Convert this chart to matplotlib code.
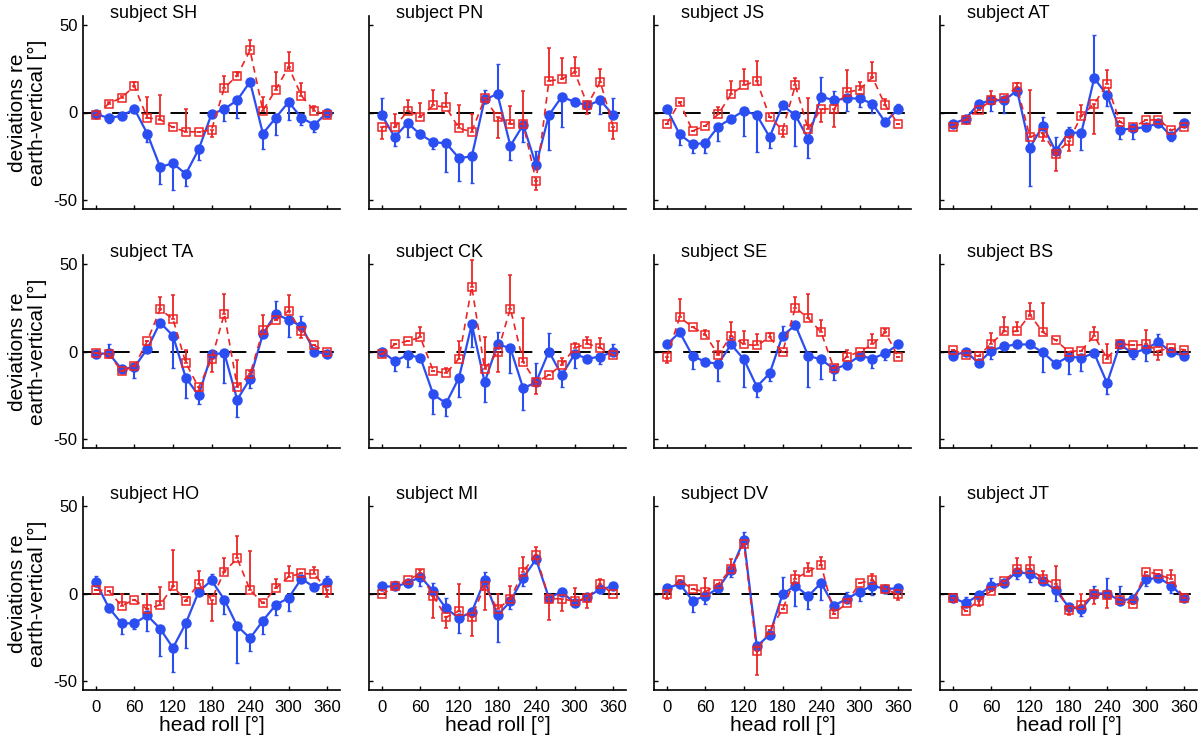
import numpy as np
import matplotlib
matplotlib.use("Agg")
import matplotlib.pyplot as plt

plt.rcParams["font.family"] = ["Liberation Sans", "DejaVu Sans"]
plt.rcParams["axes.unicode_minus"] = False

head_roll = list(range(0, 361, 20))
x_ticks = [0, 60, 120, 180, 240, 300, 360]
y_ticks = [-50, 0, 50]

# signed error lengths: positive = bar drawn upward, negative = downward
sh_blue = [-1, -3, -2, 2, -12, -31, -29, -35, -21, -1, 2, 7, 17.5, -12, -3, 6, -3, -7, 0]
sh_blue_err = [0, -3, 0, 0, -5, -10, -15, -7, -6, 0, -7, -10, 0, -9, -10, -10, -4, -4, 0]
sh_red = [-1.5, 5, 8.5, 15, -3, -4, -8.5, -11, -11, -10, 14, 21, 35.5, 1, 13, 26, 9.5, 1, -1.5]
sh_red_err = [0, 1, 1, 2.5, 12, 14, 0, 13, 0, -4, 7, 2, 6, 8, 10, 8.5, 7.5, 2.5, 0]

pn_blue = [-1.5, -14, -6, -12.5, -17, -17.5, -26, -25, 7.5, 10.5, -19, -7, -30, -1.5, 9, 6, 4, 7, -1.5]
pn_blue_err = [9.5, -5, -8, -2, -4, -16.5, -13, -15, 5.5, 17, -8, -10, 8, -20, -17, 2, 0, -8, 9.5]
pn_red = [-8, -8.5, 1, -2.5, 4, 3, -9, -11, 8, -2.5, -6.5, -6.5, -39, 18, 19, 23, 4.5, 17.5, -8]
pn_red_err = [-7, 7.5, 6, 8, 9, 8, 13, 10, 0, -12, 10, 18.5, -5, 19, 12, 8.5, -5.5, 7.5, -7]

js_blue = [2, -12.5, -18, -17.5, -8, -3.5, 1, -1.5, -14, 4, -1.5, -15, 9, 7, 8, 8, 5, -5.5, 2]
js_blue_err = [0, -6, -5, -5.5, -8, 0, -14.5, -21, -6, 2, -17.5, -11, 11, 5, -7, -5, -5, 0, 3]
js_red = [-6.5, 6, -10.5, -7.5, -1, 10.5, 15.5, 18, -2.5, -10, 15.5, -9.5, 2, 2, 11.5, 13, 20, 4, -6.5]
js_red_err = [0, 0, 0, 0, 4, 7.5, 9.5, 11.5, 0, -4, 4, 18, -7.5, -10, 12.5, 4.5, 9, 3.5, 0]

at_blue = [-6.5, -3.5, 5, 7, 7, 12.5, -20, -7.5, -22, -11.5, -11.5, 19.5, 10, -10, -9, -8.5, -6, -13.5, -6]
at_blue_err = [0, 0, 0, -6, -7, 0, -22, 5, 8, 3, -10, 24.5, -6.5, -5, -6, 0, 0, -3, 0]
at_red = [-8.5, -4, 1.5, 7, 8.5, 14.5, -14, -11.5, -23.5, -16.5, -2, 5, 16, -5.5, -8.5, -4.5, -4, -10, -8]
at_red_err = [0, 0, 0, 5, 0, 2.5, 27, -5, -10, -5.5, 6, -17, 8.5, 0, 0, 0, 0, 0, 0]

ta_blue = [-1.5, -1, -10, -9, 1.5, 16.5, 9, -15, -25, -1.5, -1, -27.5, -15.5, 10, 21.5, 18, 14.5, 0, -1.5]
ta_blue_err = [0, 5, 0, -6, 0, 0, -18.5, -11.5, -5, 0, -17, -10, -5.5, 0, 7, -9.5, 6, 0, 0]
ta_red = [-1, -1.5, -11, -8.5, 6, 24, 18.5, -6.5, -20.5, -4.5, 21.5, -20, -13, 12, 18, 23, 11.5, 3.5, -0.5]
ta_red_err = [0, 0, 0, 0, 0, 7, 13.5, 7.5, -2, -7, 11, 15, 2, 9, 0, 9, -4, 0, 0]

ck_blue = [0, -5.5, -2, -3.5, -24.5, -29.5, -15, 15.5, -17.5, 4, 2, -21, -17.5, 0, -13.5, -1.5, -4, -3, 0]
ck_blue_err = [0, -5.5, -7, 0, -11, -7, -11, -13, -11, 7, -14, -12.5, 11, 10.5, -7, -8, 0, -4, 4]
ck_red = [-1.5, 4, 6, 8, -11, -12.5, -4, 37, -10, -0.5, 24.5, -6, -17.5, -13.5, -7.5, 2, 4.5, 2, -2]
ck_red_err = [0, 0, 0, 6, 0, 3, 10, 15, 18, -11, 19, 25, -6.5, 0, 4, 3, 4, 5.5, 0]

se_blue = [4, 11, -2.5, -6, -7, 4, -4.5, -20, -12.5, 9, 15, -2.5, -4.5, -10, -7.5, -2.5, -4, -1, 4]
se_blue_err = [0, 0, -7.5, 0, -10, 3.5, -15.5, -6, -4.5, 5.5, 0, -17.5, -11, -6.5, 0, 0, -5.5, -4, 0]
se_red = [-3, 19.5, 14, 9.5, -2, 9, 4, 3.5, 8, -0.5, 25, 19, 11, -9.5, -3, 0, 4, 11, -3]
se_red_err = [-3.5, 10.5, 0, 3, 8, 8, 7.5, 6.5, 2.5, 0, 6, 13.5, 7, 0, 4, 0, 6, 2, 0]

bs_blue = [-2.5, 0, -6.5, 0.5, 3, 4, 4, -0.5, -7, -3, -3.5, -1, -18, 4, -1, 1.5, 5.5, -0.5, -2.5]
bs_blue_err = [0, 0, 0, -4.5, 0, 0, 0, -11, 0, -10, -7.5, 0, -6, 0, -3.5, -7, 4.5, 0, 0]
bs_red = [1, -2, -2.5, 4.5, 11.5, 11.5, 21, 11, 6.5, 0, 0.5, 9, -4, 4.5, 3.5, 4, 0.5, 2, 1]
bs_red_err = [0, 0, 0, 6, 8, 5.5, 6.5, 16.5, 0, 0, 0, 5, 8.5, 0, 0, 8, -5.5, 0, 0]

ho_blue = [6.5, -8, -17, -17, -12.5, -20, -31, -17, 1, 7.5, -3.5, -18.5, -25.5, -15.5, -6.5, -2.5, 8.5, 3.5, 6.5]
ho_blue_err = [3.5, 0, -6, -3.5, -9, -15.5, -14, -14, 0, 3.5, -8, -21, -7, -7.5, -6, -7.5, 0, 0, 3.5]
ho_red = [2, 1.5, -7, -3.5, -9, -6.5, 4, -4, 5.5, -3.5, 12.5, 20, 2, -5.5, 3, 9.5, 11.5, 11, 2]
ho_red_err = [0, 0, 6.5, 0, 8.5, 10, 21, 0, 7.5, -12, 8, 13, 22.5, 0, 5, 6, 0, 4, -4]

mi_blue = [4, 4, 6, 9.5, 1.5, -8.5, -14, -10.5, 7.5, -12.5, -4.5, 9, 19.5, -2.5, 1, -5.5, -2, 2.5, 4]
mi_blue_err = [0, 3, 0, -5.5, 4.5, 6, -8.5, 2.5, 4.5, -15, -4.5, -4.5, 0, 0, 0, 0, 0, 0, 0]
mi_red = [-0.5, 4, 7.5, 11.5, -1.5, -13.5, -10, -13.5, 4.5, -9, -3, 12.5, 22, -3, -3, -4.5, -2.5, 5.5, -0.5]
mi_red_err = [0, 0, 0, 2, -12.5, -6, 15.5, -10.5, -14, 9, 7, 8.5, 4.5, -12, -7, 7.5, -6, 3, 0]

dv_blue = [3, 5.5, -4, -1.5, 3, 13.5, 30.5, -30, -23.5, -0.5, 4.5, -1.5, 6, -7, -3, 1, 4.5, 2.5, 3]
dv_blue_err = [0, 0, -6.5, -4.5, 0, -4, 4.5, 0, 0, 10, -11.5, -7.5, -9.5, 0, 4, -5.5, -5.5, 0, 0]
dv_red = [0, 7.5, 2.5, 1, 5.5, 14, 28, -33, -21, -9, 8.5, 12.5, 16.5, -11.5, -5.5, 6, 7.5, 2.5, -0.5]
dv_red_err = [-3, 0, 0, 8, 0, 5.5, 0, -13.5, 0, 0, 4.5, 5, 4.5, 0, 0, 0, 3.5, 0, -3]

jt_blue = [-2.5, -5.5, -1, 4.5, 6, 12.5, 11, 7, 2, -7.5, -9, 0, 0, -4, -3, 8, 9, 4.5, -2.5]
jt_blue_err = [0, 3.5, 0, 4.5, 0, -4.5, -4.5, 0, -6, 0, -4, 4.5, 9, 8.5, 0, -4, 0, -4, 0]
jt_red = [-2.5, -10, -4, 1.5, 7, 14, 14, 8.5, 5.5, -9.5, -6.5, -0.5, -1, -3.5, -6, 12.5, 11, 8, -2.5]
jt_red_err = [0, 0, -3, 0, 0, 6, 7, 4.5, 10, -3, 6, -5.5, -7.5, 0, 0, 0, 0, 5.5, 0]

subjects = [
    ("SH", sh_blue, sh_blue_err, sh_red, sh_red_err),
    ("PN", pn_blue, pn_blue_err, pn_red, pn_red_err),
    ("JS", js_blue, js_blue_err, js_red, js_red_err),
    ("AT", at_blue, at_blue_err, at_red, at_red_err),
    ("TA", ta_blue, ta_blue_err, ta_red, ta_red_err),
    ("CK", ck_blue, ck_blue_err, ck_red, ck_red_err),
    ("SE", se_blue, se_blue_err, se_red, se_red_err),
    ("BS", bs_blue, bs_blue_err, bs_red, bs_red_err),
    ("HO", ho_blue, ho_blue_err, ho_red, ho_red_err),
    ("MI", mi_blue, mi_blue_err, mi_red, mi_red_err),
    ("DV", dv_blue, dv_blue_err, dv_red, dv_red_err),
    ("JT", jt_blue, jt_blue_err, jt_red, jt_red_err),
]

BLUE = "#2b4ef2"
RED = "#ee2424"


def one_sided(err):
    err = np.asarray(err, dtype=float)
    return np.vstack([np.clip(-err, 0, None), np.clip(err, 0, None)])


W, H = 1200, 743
fig = plt.figure(figsize=(W / 100, H / 100), dpi=100)

col_left = [83, 369, 654, 940]
row_bottom = [209, 448, 690]
ax_w, ax_h = 257, 193

for k, (name, blue, blue_err, red, red_err) in enumerate(subjects):
    row, col = divmod(k, 4)
    ax = fig.add_axes([col_left[col] / W, 1 - row_bottom[row] / H, ax_w / W, ax_h / H])

    ax.axhline(0, color="k", ls=(0, (9, 6)), lw=1.4, zorder=1)

    ax.errorbar(head_roll, blue, yerr=one_sided(blue_err), color=BLUE, lw=1.6,
                marker="o", ms=6.5, mfc=BLUE, mec=BLUE, elinewidth=1.5,
                capsize=1.5, zorder=2)
    ax.errorbar(head_roll, red, yerr=one_sided(red_err), color=RED, lw=1.2,
                ls=(0, (4, 3)), marker="s", ms=5.2, mfc="none", mec=RED, mew=1.1,
                elinewidth=1.3, capsize=1.5, zorder=3)

    ax.set_xlim(-20, 380)
    ax.set_ylim(-55, 55)
    ax.set_xticks(x_ticks)
    ax.set_yticks(y_ticks)
    ax.spines["top"].set_visible(False)
    ax.spines["right"].set_visible(False)
    ax.spines["left"].set_linewidth(1.2)
    ax.spines["bottom"].set_linewidth(1.2)
    ax.tick_params(direction="in", length=3, width=1, labelsize=12)
    ax.tick_params(axis="x", pad=7)
    ax.tick_params(axis="y", pad=4)

    if col != 0:
        ax.set_yticklabels([])
    else:
        ax.text(-0.215, 0.5, "deviations re\nearth-vertical [°]", transform=ax.transAxes,
                rotation=90, ha="center", va="center", fontsize=15, linespacing=1.05)
    if row != 2:
        ax.set_xticklabels([])
    else:
        ax.set_xlabel("head roll [°]", fontsize=15, labelpad=1)

    ax.text(0.105, 0.99, f"subject {name}", transform=ax.transAxes,
            ha="left", va="baseline", fontsize=13)

fig.savefig("out.png", dpi=100)
